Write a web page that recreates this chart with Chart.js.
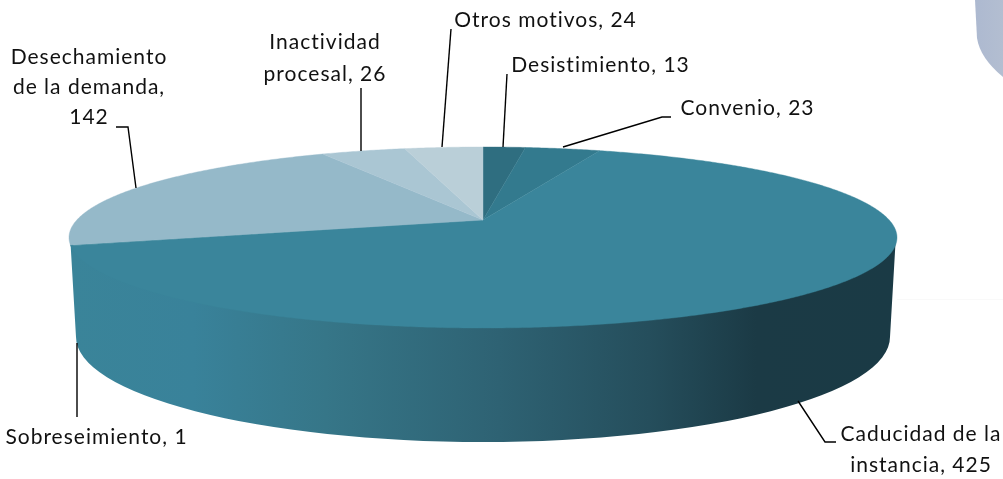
<!DOCTYPE html>
<html><head><meta charset="utf-8">
<script src="https://cdn.jsdelivr.net/npm/chart.js@4/dist/chart.umd.min.js"></script>
<style>html,body{margin:0;padding:0;background:#fff;overflow:hidden}#w{position:relative;width:1003px;height:479px}</style>
</head><body><div id="w"><canvas id="c" width="1003" height="479"></canvas></div>
<script>
const categories = ["Desistimiento","Convenio","Caducidad de la instancia","Sobreseimiento","Desechamiento de la demanda","Inactividad procesal","Otros motivos"];
const values = [13,23,425,1,142,26,24];
const sliceColors = ["#2f6e80","#337a8e","#3a859b","#3a859b","#95b9c9","#aac6d3","#bacfd8"];

const RX=414, RY=90.5, T=-0.193, BOTTOM_DY=99.5, BOTTOM_RX=407, BOTTOM_RY=105;
function project(el,a){
  const X=Math.cos(a),Y=Math.sin(a),d=1+T*Y,s=Math.sqrt(1-T*T);
  return [el.x+RX*X*s/d, el.y+RY*(Y+T)/d];
}
// Slices are the library's own arc elements, drawn with a perspective projection of their angles.
Chart.ArcElement.prototype.draw=function(ctx){
  const c=this.options.backgroundColor, a0=this.startAngle, a1=this.endAngle;
  const n=Math.max(2,Math.ceil((a1-a0)/0.008));
  ctx.save();ctx.beginPath();
  const X0=this.x, Y0=this.y+RY*T;
  ctx.moveTo(X0,Y0);
  for(let i=0;i<=n;i++){const p=project(this,a0+(a1-a0)*i/n);ctx.lineTo(p[0],p[1]);}
  ctx.closePath();ctx.fillStyle=c;ctx.fill();ctx.strokeStyle=c;ctx.lineWidth=0.4;ctx.stroke();ctx.restore();
};
const labelLines=i=>{
  const v=values[i];
  return [["Desistimiento, "+v],["Convenio, "+v],["Caducidad de la","instancia, "+v],["Sobreseimiento, "+v],
          ["Desechamiento","de la demanda,",""+v],["Inactividad","procesal, "+v],["Otros motivos, "+v]][i];
};
const labelPos=[[600.5,65],[747.5,108],[921,434],[96.5,437],[89,57],[325,42],[545.5,20]];
const lineH=[0,0,31,0,30,32,0];
const leaders=[
 [[507,74],[503,147]],
 [[671,117],[662,117],[563,147]],
 [[798,401],[825,442],[836,442]],
 [[77,343],[77,417]],
 [[116,127],[128,127],[136,188]],
 [[361,88],[361,151]],
 [[451,29],[442,147]]
];
const decor={id:'decor',
 beforeDatasetsDraw(chart){
  const ctx=chart.ctx, el=chart.getDatasetMeta(0).data[0];
  ctx.save();
  let g=ctx.createLinearGradient(975,0,1003,0);g.addColorStop(0,'#adb9d0');g.addColorStop(1,'#b3bed1');
  ctx.beginPath();ctx.moveTo(975,0);ctx.lineTo(977,38);ctx.quadraticCurveTo(980,58,1003,77);ctx.lineTo(1003,0);ctx.closePath();ctx.fillStyle=g;ctx.fill();
  ctx.fillStyle='#f9f9f9';ctx.fillRect(897,299,106,1);
  g=ctx.createLinearGradient(69,0,897,0);
  [[0,'#3a8499'],[0.15,'#39829a'],[0.31,'#367688'],[0.52,'#2e6273'],[0.7,'#254e5c'],[0.83,'#1b3a45'],[1,'#1a3a45']].forEach(s=>g.addColorStop(s[0],s[1]));
  ctx.beginPath();
  ctx.ellipse(el.x,el.y-3,RX-1,RY,0,0,Math.PI);
  ctx.ellipse(el.x,el.y+BOTTOM_DY,BOTTOM_RX,BOTTOM_RY,0,Math.PI,0,true);
  ctx.closePath();ctx.fillStyle=g;ctx.fill();
  ctx.restore();
 },
 afterDatasetsDraw(chart){
  const ctx=chart.ctx;
  ctx.save();
  ctx.strokeStyle='#000';ctx.lineWidth=1.4;
  leaders.forEach(l=>{ctx.beginPath();l.forEach((p,i)=>i?ctx.lineTo(p[0],p[1]):ctx.moveTo(p[0],p[1]));ctx.stroke();});
  ctx.fillStyle='#111';ctx.font='21px Lato';ctx.textAlign='center';ctx.textBaseline='middle';
  ctx.letterSpacing='1px';
  categories.forEach((c,i)=>{labelLines(i).forEach((t,j)=>ctx.fillText(t,labelPos[i][0],labelPos[i][1]+j*lineH[i]));});
  ctx.restore();
 }
};
new Chart(document.getElementById('c'),{
 type:'pie',
 data:{labels:categories,datasets:[{data:values,backgroundColor:sliceColors,borderWidth:0}]},
 options:{responsive:false,animation:false,events:[],layout:{padding:{left:0,right:37,top:0,bottom:4}},
  plugins:{legend:{display:false},tooltip:{enabled:false}}},
 plugins:[decor]
});
</script></body></html>
